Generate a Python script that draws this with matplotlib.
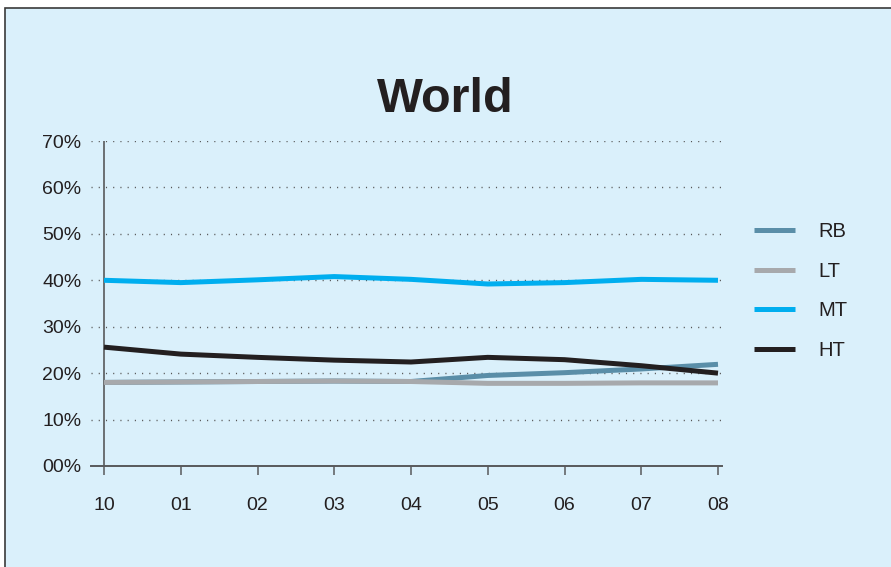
import matplotlib.pyplot as plt
from matplotlib.patches import Rectangle

plt.rcParams['font.family'] = ['Liberation Sans', 'DejaVu Sans']

# share of each segment per period
periods = ['10', '01', '02', '03', '04', '05', '06', '07', '08']
rb = [0.180, 0.181, 0.182, 0.183, 0.182, 0.195, 0.201, 0.209, 0.219]
lt = [0.180, 0.181, 0.182, 0.183, 0.182, 0.178, 0.178, 0.179, 0.179]
mt = [0.400, 0.395, 0.401, 0.408, 0.402, 0.392, 0.395, 0.402, 0.400]
ht = [0.256, 0.241, 0.234, 0.228, 0.224, 0.234, 0.229, 0.216, 0.200]
ytick_vals = [0.0, 0.1, 0.2, 0.3, 0.4, 0.5, 0.6, 0.7]
ytick_labels = ['00%', '10%', '20%', '30%', '40%', '50%', '60%', '70%']

bg = '#daf0fb'
ink = '#231f20'
axis_grey = '#58595b'

fig = plt.figure(figsize=(8.91, 5.67), dpi=100)
fig.patch.set_facecolor('white')
fig.patches.append(Rectangle((4.5 / 891, -0.05), 1.1, 1 - 7.5 / 567 + 0.05,
                             transform=fig.transFigure, facecolor=bg,
                             edgecolor='#3a3a3a', linewidth=1.2, zorder=-10))

ax = fig.add_axes([91 / 891, 1 - 466 / 567, (722 - 91) / 891, (466 - 141) / 567])
ax.set_facecolor('none')

x = list(range(len(periods)))
series = [('RB', rb, '#5a8ea8'), ('LT', lt, '#a7a9ac'),
          ('MT', mt, '#00aeef'), ('HT', ht, ink)]
for name, vals, col in series:
    ax.plot(x, vals, color=col, lw=3.6, label=name, solid_capstyle='butt',
            solid_joinstyle='round', zorder=3)

ax.set_xlim(-13 / 76.75, 8 + 4 / 76.75)
ax.set_ylim(0, 0.70)

for s in ['top', 'right', 'left']:
    ax.spines[s].set_visible(False)
ax.spines['bottom'].set_color(axis_grey)
ax.spines['bottom'].set_linewidth(1.4)
ax.axvline(0, color=axis_grey, lw=1.2, zorder=2)

ax.set_yticks(ytick_vals)
ax.set_yticklabels(ytick_labels)
ax.tick_params(axis='y', length=0, pad=7, labelsize=14, labelcolor=ink)
ax.set_xticks(x)
ax.set_xticklabels(periods)
ax.tick_params(axis='x', length=6.5, width=1.1, color=axis_grey, direction='out',
               pad=16, labelsize=14, labelcolor=ink)

for v in ytick_vals[1:]:
    ax.axhline(v, color='#555555', lw=1.0, dashes=(0.8, 4.4), zorder=1)

fig.text(445 / 891, 1 - 112 / 567, 'World', ha='center', va='baseline',
         fontsize=35, fontweight='bold', color=ink)

leg = ax.legend(loc='upper left', bbox_to_anchor=(746 / 891, 1 - 214 / 567),
                bbox_transform=fig.transFigure, frameon=False, fontsize=14.5,
                handlelength=2.05, handletextpad=1.15, labelspacing=1.02,
                borderaxespad=0)
for t in leg.get_texts():
    t.set_color(ink)

fig.savefig('out.png', dpi=100, facecolor=fig.get_facecolor())
